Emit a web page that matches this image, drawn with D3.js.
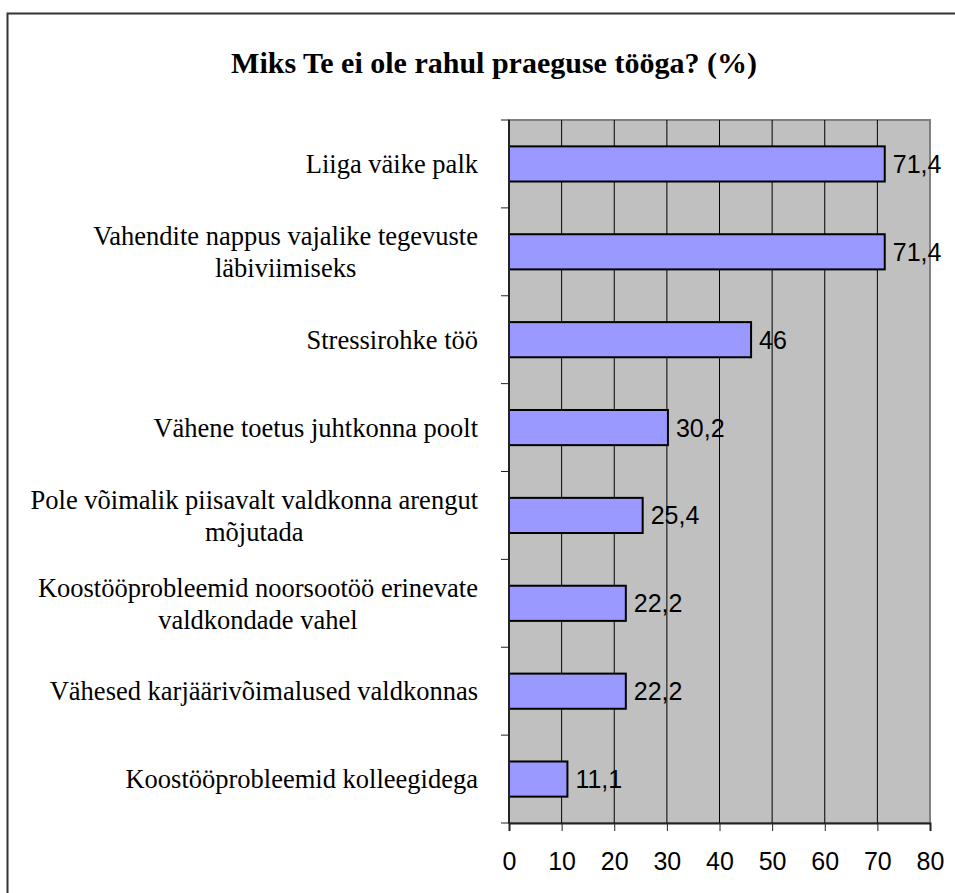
<!DOCTYPE html>
<html>
<head>
<meta charset="utf-8">
<script src="https://cdn.jsdelivr.net/npm/d3@7"></script>
<style>
  body { margin: 0; background: #fff; }
  svg { display: block; }
</style>
</head>
<body>
<svg id="chart" width="955" height="893"></svg>
<script>
// data
const categories = [
  ['Liiga väike palk'],
  ['Vahendite nappus vajalike tegevuste', 'läbiviimiseks'],
  ['Stressirohke töö'],
  ['Vähene toetus juhtkonna poolt'],
  ['Pole võimalik piisavalt valdkonna arengut', 'mõjutada'],
  ['Koostööprobleemid noorsootöö erinevate', 'valdkondade vahel'],
  ['Vähesed karjäärivõimalused valdkonnas'],
  ['Koostööprobleemid kolleegidega']
]
const values = [71.4, 71.4, 46, 30.2, 25.4, 22.2, 22.2, 11.1]
const valueLabels = ['71,4', '71,4', '46', '30,2', '25,4', '22,2', '22,2', '11,1']
const xTicks = [0, 10, 20, 30, 40, 50, 60, 70, 80]
const title = 'Miks Te ei ole rahul praeguse tööga? (%)'

const svg = d3.select('#chart')
const plotLeft = 509, plotRight = 930, plotTop = 120, plotBottom = 823

// frame around the chart
svg.append('path')
  .attr('d', 'M7.5,893 V13.5 H955')
  .attr('fill', 'none')
  .attr('stroke', '#333')
  .attr('stroke-width', 2)

svg.append('text')
  .attr('x', 494)
  .attr('y', 73)
  .attr('text-anchor', 'middle')
  .attr('font-family', '"Liberation Serif", "Times New Roman", serif')
  .attr('font-weight', 'bold')
  .attr('font-size', 30)
  .text(title)

const x = d3.scaleLinear().domain([0, 80]).range([plotLeft, plotRight])
const idx = d3.range(categories.length)
const y = d3.scaleBand().domain(idx).range([plotTop, plotBottom]).paddingInner(0.6).paddingOuter(0.3)

// plot background
svg.append('rect')
  .attr('x', plotLeft).attr('y', plotTop)
  .attr('width', plotRight - plotLeft).attr('height', plotBottom - plotTop)
  .attr('fill', '#c0c0c0')
  .attr('stroke', '#808080')
  .attr('stroke-width', 2)

// vertical grid
svg.append('g')
  .selectAll('line')
  .data(xTicks.slice(1, -1))
  .join('line')
  .attr('x1', d => x(d)).attr('x2', d => x(d))
  .attr('y1', plotTop).attr('y2', plotBottom)
  .attr('stroke', '#000')
  .attr('stroke-width', 1)

// bars
svg.append('g')
  .selectAll('rect')
  .data(values)
  .join('rect')
  .attr('x', x(0))
  .attr('y', (d, i) => y(i))
  .attr('width', d => x(d) - x(0))
  .attr('height', y.bandwidth())
  .attr('fill', '#9999ff')
  .attr('stroke', '#000')
  .attr('stroke-width', 2)

// value labels
svg.append('g')
  .selectAll('text')
  .data(values)
  .join('text')
  .attr('x', d => x(d) + 8)
  .attr('y', (d, i) => y(i) + y.bandwidth() / 2)
  .attr('dy', '0.36em')
  .attr('font-family', '"Liberation Sans", Arial, sans-serif')
  .attr('font-size', 25)
  .text((d, i) => valueLabels[i])

// y axis: line + ticks at band boundaries
const step = (plotBottom - plotTop) / categories.length
svg.append('line')
  .attr('x1', plotLeft).attr('x2', plotLeft)
  .attr('y1', plotTop).attr('y2', plotBottom)
  .attr('stroke', '#222').attr('stroke-width', 2)
svg.append('g')
  .selectAll('line')
  .data(d3.range(categories.length + 1))
  .join('line')
  .attr('x1', plotLeft - 8).attr('x2', plotLeft)
  .attr('y1', d => plotTop + d * step).attr('y2', d => plotTop + d * step)
  .attr('stroke', '#222').attr('stroke-width', 1)

// category labels
const labelG = svg.append('g')
  .attr('font-family', '"Liberation Serif", "Times New Roman", serif')
  .attr('font-size', 26.5)
categories.forEach((lines, i) => {
  const cy = plotTop + (i + 0.5) * step
  const lh = 32
  const g = labelG.append('g')
  const texts = lines.map((ln, j) => g.append('text')
    .attr('y', cy + (j - (lines.length - 1) / 2) * lh)
    .attr('dy', '0.35em')
    .text(ln))
  const widths = texts.map(t => t.node().getComputedTextLength())
  const maxW = d3.max(widths)
  const centre = 478 - maxW / 2
  texts.forEach(t => t.attr('x', centre).attr('text-anchor', 'middle'))
})

// x axis
const xAxis = d3.axisBottom(x).tickValues(xTicks).tickSize(8).tickPadding(21)
const ax = svg.append('g')
  .attr('transform', `translate(0,${plotBottom})`)
  .call(xAxis)
ax.select('.domain').attr('stroke', '#222').attr('stroke-width', 2)
ax.selectAll('.tick line').attr('stroke', '#222')
ax.selectAll('.tick text')
  .attr('font-family', '"Liberation Sans", Arial, sans-serif')
  .attr('font-size', 25)
  .attr('fill', '#000')
</script>
</body>
</html>
